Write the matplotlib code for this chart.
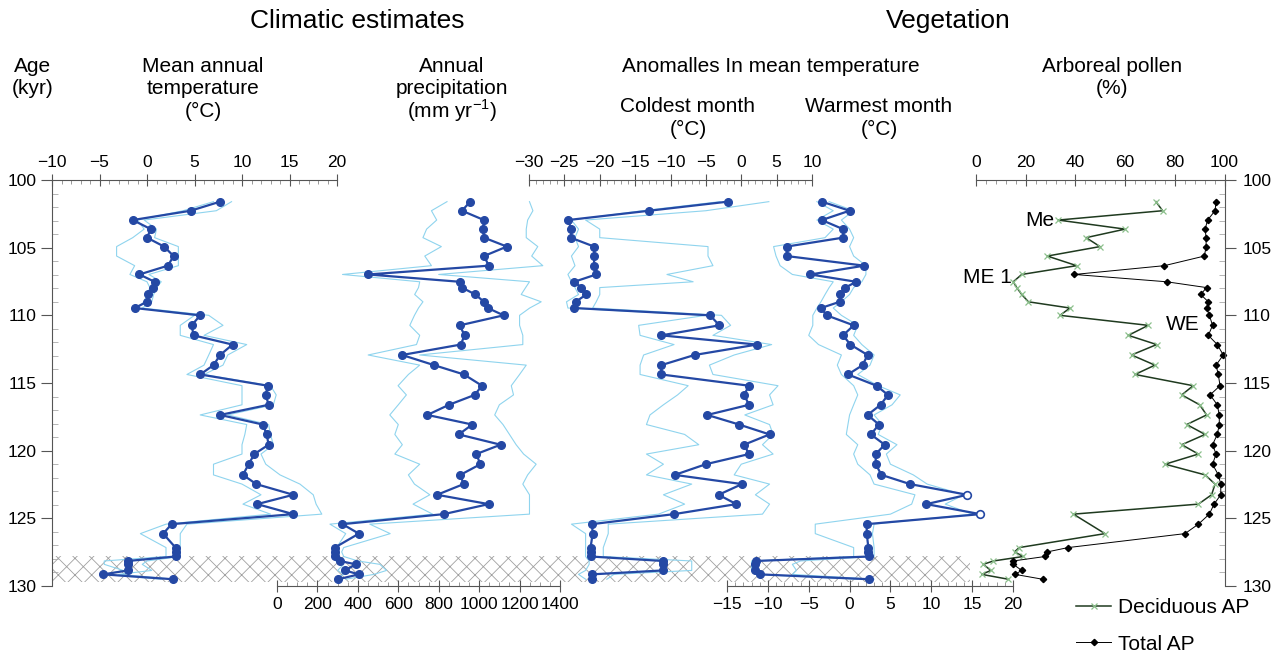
import matplotlib.pyplot as plt
import numpy as np
from matplotlib.patches import Rectangle

plt.rcParams["font.family"] = ["Liberation Sans", "DejaVu Sans"]
plt.rcParams["mathtext.fontset"] = "custom"
plt.rcParams["mathtext.rm"] = "Liberation Sans"
plt.rcParams["hatch.linewidth"] = 0.6

W, H = 1276, 655
Y_TOP, Y_BOT = 180, 586  # pixel rows of 100 and 130 kyr

BLUE = "#2448a4"
ENV = "#8fd4ee"
DEC_LINE = "#1f3a1f"
DEC_MARK = "#8cc08c"
AXIS = "#555555"
HATCH = "#a0a0a0"

# sample ages (kyr)
AGES = [101.6, 102.27, 102.96, 103.63, 104.26, 104.92, 105.62, 106.33, 106.98, 107.52,
        107.95, 108.46, 109.0, 109.46, 110.0, 110.74, 111.48, 112.16, 112.93, 113.68,
        114.37, 115.2, 115.88, 116.61, 117.36, 118.07, 118.8, 119.56, 120.25, 121.0,
        121.79, 122.47, 123.26, 123.95, 124.69, 125.43, 126.13, 127.16, 127.48, 127.82,
        128.15, 128.4, 128.85, 129.14, 129.5]

# mean annual temperature (degC) with lower / upper bounds
MAT = [7.7, 4.6, -1.5, 0.4, 0.0, 1.8, 2.8, 2.2, -0.8, 0.8,
       0.6, 0.1, 0.0, -1.3, 5.6, 4.7, 4.9, 9.0, 7.7, 7.0,
       5.6, 12.7, 12.5, 12.8, 7.7, 12.2, 12.6, 12.8, 11.3, 10.7,
       10.1, 11.5, 15.4, 11.6, 15.4, 2.6, 1.7, 3.0, 3.0, 3.0,
       -2.0, -2.0, -2.0, -4.6, 2.7]
MAT_LO = [7.0, 3.8, -1.0, -0.3, -1.5, -3.2, -3.2, -1.3, -1.8, 0.0,
          0.3, 0.0, -0.3, -1.0, 5.0, 3.5, 3.5, 7.0, 6.5, 6.0,
          4.2, 10.0, 10.0, 10.0, 5.6, 10.5, 10.3, 10.0, 10.0, 7.0,
          7.0, 10.0, 12.0, 10.1, 13.0, 2.0, -0.7, 2.0, 2.0, 2.0,
          -4.5, -4.5, -2.5, -4.5, 1.5]
MAT_HI = [8.9, 7.3, -0.3, 1.0, 0.8, 3.3, 3.3, 3.3, 0.2, 1.5,
          1.0, 0.7, 0.5, -0.5, 6.5, 8.0, 6.0, 10.5, 8.5, 8.0,
          6.0, 13.0, 13.6, 13.3, 8.5, 12.8, 13.0, 13.3, 12.0, 12.5,
          14.0, 16.1, 17.5, 17.8, 18.4, 4.2, 3.5, 3.5, 3.5, 3.5,
          0.0, -0.5, 0.5, -3.0, 3.0]

# annual precipitation (mm/yr)
PRECIP = [956, 915, 1024, 1019, 1024, 1137, 1024, 1048, 451, 904,
          915, 981, 1024, 1043, 1121, 904, 928, 909, 619, 777,
          925, 1014, 978, 851, 744, 966, 899, 1106, 986, 1006,
          907, 923, 792, 1047, 825, 324, 405, 286, 286, 286,
          311, 390, 336, 405, 303]
PRECIP_LO = [841, 764, 790, 740, 722, 813, 731, 764, 324, 706,
             700, 681, 722, 700, 680, 657, 706, 690, 451, 706,
             650, 599, 640, 600, 558, 600, 583, 620, 583, 706,
             650, 680, 756, 673, 770, 262, 340, 295, 280, 280,
             290, 330, 300, 330, 290]
PRECIP_HI = [1249, 1266, 1240, 1233, 1233, 1290, 1260, 1315, 800, 1249,
             1230, 1208, 1307, 1250, 1200, 1200, 1216, 1216, 706, 1233,
             1200, 1159, 1170, 1100, 1077, 1118, 1150, 1183, 1220, 1282,
             1240, 1216, 1249, 1249, 1249, 459, 560, 330, 320, 330,
             400, 509, 542, 480, 340]

# coldest month anomaly (degC)
COLD = [-1.9, -13.0, -24.5, -24.0, -24.1, -20.8, -20.8, -20.8, -20.5, -23.6,
        -22.6, -21.9, -23.4, -23.6, -4.4, -3.1, -11.3, 2.2, -6.6, -11.3,
        -11.3, 1.1, 0.4, 1.1, -4.8, -0.3, 4.0, 0.4, 1.1, -5.0,
        -9.4, 0.1, -3.2, -0.7, -9.5, -21.1, -21.0, -21.3, -21.3, -21.3,
        -11.1, -11.1, -11.1, -21.1, -21.1]
COLD_LO = [-3.0, -14.0, -24.0, -23.0, -23.5, -23.0, -24.0, -23.5, -24.5, -24.0,
           -23.5, -23.0, -24.7, -24.5, -5.0, -14.5, -14.3, -9.5, -13.8, -14.3,
           -14.3, -7.5, -9.0, -11.0, -12.9, -13.4, -8.0, -6.0, -13.4, -11.0,
           -13.4, -7.0, -11.0, -8.0, -11.7, -24.0, -22.0, -22.0, -22.0, -22.0,
           -21.5, -21.5, -22.0, -23.0, -22.0]
COLD_HI = [3.9, -5.0, -22.0, -20.0, -20.0, -4.7, -4.7, -4.0, -10.5, -6.8,
           -20.0, -20.0, -20.5, -21.0, -2.8, -1.5, -4.0, 4.3, -1.0, -4.5,
           -4.0, 5.2, 4.0, 4.5, 0.5, 4.0, 4.5, 3.0, 4.5, 0.0,
           -1.0, 4.0, 2.0, 4.0, 3.0, -18.8, -18.8, -19.5, -19.5, -19.5,
           -7.0, -7.0, -7.0, -18.0, -19.0]

# warmest month anomaly (degC)
WARM = [-3.4, 0.0, -3.4, -0.8, -0.8, -7.7, -7.7, 1.8, -4.8, 0.8,
        -0.5, -1.2, -1.2, -3.5, -2.8, 0.5, -0.8, 0.1, 2.2, 1.6,
        -0.2, 3.3, 4.7, 3.8, 2.2, 3.6, 2.6, 4.3, 3.2, 3.2,
        3.9, 7.4, 14.4, 9.4, 16.0, 2.1, 2.1, 2.3, 2.3, 2.4,
        -11.4, -11.6, -11.6, -11.0, 2.4]
WARM_LO = [-4.0, -2.0, -4.0, -2.0, -3.0, -9.3, -9.0, -8.5, -7.0, -2.0,
           -2.5, -3.0, -3.5, -4.0, -4.5, -4.5, -5.0, -3.8, -1.0, -1.5,
           -1.0, 0.5, 1.0, 0.5, 0.0, -0.2, -0.4, 1.0, 0.5, 1.0,
           2.5, 3.0, 8.0, 7.6, 5.0, -4.2, -4.2, 0.5, 0.5, 0.5,
           -12.0, -12.0, -12.0, -11.5, 1.0]
WARM_HI = [-2.5, 0.5, -1.0, 0.0, 0.5, 0.0, 0.5, 2.0, 2.0, 1.5,
           0.5, 0.0, -1.0, -2.0, -1.0, 1.0, 0.5, 1.5, 3.0, 2.5,
           1.0, 3.5, 6.2, 5.2, 3.0, 4.0, 3.5, 5.8, 4.5, 5.0,
           7.8, 9.5, 14.0, 11.7, 15.0, 3.0, 2.8, 3.0, 3.0, 3.0,
           -6.0, -7.0, -6.5, -7.0, 3.0]
WARM_OPEN = [32, 34]  # samples drawn as open circles

# arboreal pollen (%)
TOTAL_AP = [96.6, 96.2, 93.2, 92.2, 92.6, 92.6, 91.9, 75.8, 39.6, 76.7,
            92.8, 90.4, 93.5, 92.8, 93.9, 95.2, 93.5, 97.1, 99.5, 96.6,
            97.5, 98.2, 94.2, 97.1, 97.9, 97.9, 97.1, 95.2, 96.6, 95.2,
            97.5, 98.5, 98.5, 95.8, 93.9, 89.5, 84.1, 37.1, 28.7, 27.8,
            15.0, 15.0, 18.4, 15.7, 26.8]
DEC_AGES = [a for a in AGES if a != 125.43]
DEC_AP = [72.4, 75.1, 33.1, 60.0, 44.3, 49.9, 28.7, 40.5, 18.4, 15.0,
          16.4, 18.4, 21.1, 37.8, 33.8, 69.3, 61.3, 72.7, 62.6, 72.0,
          64.0, 87.4, 82.8, 90.0, 92.8, 84.8, 92.2, 82.8, 89.5, 76.1,
          92.2, 96.2, 94.8, 89.5, 39.2, 51.9, 17.4, 15.5, 19.0, 7.0,
          2.9, 6.0, 2.3, 13.0]


def fx(x):
    return x / W


def fy(y):
    return 1 - y / H


def px_axes(fig, x0, x1, z=2):
    ax = fig.add_axes([fx(x0), fy(Y_BOT), (x1 - x0) / W, (Y_BOT - Y_TOP) / H], zorder=z)
    ax.patch.set_alpha(0)
    ax.set_ylim(130, 100)
    for s in ax.spines.values():
        s.set_visible(False)
    ax.set_yticks([])
    return ax


def scale_axis(ax, side, lo, hi, major, minor):
    ax.set_xlim(lo, hi)
    ax.spines[side].set_visible(True)
    ax.spines[side].set_color(AXIS)
    ax.spines[side].set_linewidth(0.8)
    ax.xaxis.set_ticks_position(side)
    ax.set_xticks(np.arange(lo, hi + minor / 2, major))
    ax.set_xticks(np.arange(lo, hi + minor / 2, minor), minor=True)
    ax.tick_params(axis="x", which="major", direction="inout", length=8, width=0.8,
                   color=AXIS, labelsize=12.5, pad=3 if side == "top" else 4)
    ax.tick_params(axis="x", which="minor", direction="in", length=3, width=0.6,
                   color="#888888")


def age_axis(ax, side):
    ax.spines[side].set_visible(True)
    ax.spines[side].set_color(AXIS)
    ax.spines[side].set_linewidth(0.8)
    ax.yaxis.set_ticks_position(side)
    ax.set_yticks(np.arange(100, 131, 5))
    ax.set_yticks(np.arange(100, 131, 1), minor=True)
    ax.tick_params(axis="y", which="major", direction="out", length=8, width=0.8,
                   color=AXIS, labelsize=12.5, pad=3 if side == "left" else 5)
    ax.tick_params(axis="y", which="minor", direction="in", length=4, width=0.6,
                   color="#aaaaaa")


def climate_series(ax, vals, lo, hi, ages=AGES):
    ax.plot(lo, ages, color=ENV, lw=0.8, clip_on=False)
    ax.plot(hi, ages, color=ENV, lw=0.8, clip_on=False)
    ax.plot(vals, ages, color=BLUE, lw=1.6, marker="o", ms=5.5, clip_on=False)


fig = plt.figure(figsize=(W / 100, H / 100), dpi=100)

# hatched interval at the base of the record
bg = px_axes(fig, 52, 970, z=1)
bg.set_xlim(0, 1)
bg.set_xticks([])
bg.add_patch(Rectangle((0, 127.8), 1, 1.9, hatch="xx", fill=False,
                       edgecolor=HATCH, lw=0))

ax_mat = px_axes(fig, 52, 337, z=3)
scale_axis(ax_mat, "top", -10, 20, 5, 1)
age_axis(ax_mat, "left")
climate_series(ax_mat, MAT, MAT_LO, MAT_HI)

ax_pr = px_axes(fig, 277, 560, z=4)
scale_axis(ax_pr, "bottom", 0, 1400, 200, 50)
climate_series(ax_pr, PRECIP, PRECIP_LO, PRECIP_HI)

ax_cold = px_axes(fig, 529, 812, z=5)
scale_axis(ax_cold, "top", -30, 10, 5, 1)
climate_series(ax_cold, COLD, COLD_LO, COLD_HI)

ax_warm = px_axes(fig, 727, 1013, z=6)
scale_axis(ax_warm, "bottom", -15, 20, 5, 1)
ax_warm.plot(WARM_LO, AGES, color=ENV, lw=0.8, clip_on=False)
ax_warm.plot(WARM_HI, AGES, color=ENV, lw=0.8, clip_on=False)
filled = [i for i in range(len(WARM)) if i not in WARM_OPEN]
ax_warm.plot(WARM, AGES, color=BLUE, lw=1.6, marker="o", ms=5.5,
             markevery=filled, clip_on=False)
ax_warm.plot([WARM[i] for i in WARM_OPEN], [AGES[i] for i in WARM_OPEN], ls="none",
             marker="o", ms=5.5, mfc="white", mec=BLUE, mew=1.2, clip_on=False)

ax_ap = px_axes(fig, 976, 1224.5, z=7)
scale_axis(ax_ap, "top", 0, 100, 20, 4)
age_axis(ax_ap, "right")
dec, = ax_ap.plot(DEC_AP, DEC_AGES, color=DEC_LINE, lw=1.1, marker="x", ms=5,
                  mec=DEC_MARK, mew=0.9, clip_on=False, label="Deciduous AP")
tot, = ax_ap.plot(TOTAL_AP, AGES, color="black", lw=0.7, marker="D", ms=3.2,
                  clip_on=False, label="Total AP")

fig.legend(handles=[dec, tot], loc="upper left", bbox_to_anchor=(fx(1076), fy(598)),
           frameon=False, fontsize=15, handlelength=1.7, handletextpad=0.3,
           labelspacing=0.85, borderpad=0, borderaxespad=0, numpoints=1)

# headings
for txt, x, y, size in [
    ("Climatic estimates", 357, 21, 19),
    ("Vegetation", 948, 21, 19),
    ("Age", 33, 67, 15),
    ("(kyr)", 33, 89, 15),
    ("Mean annual", 203, 67, 15),
    ("temperature", 203, 89, 15),
    ("(°C)", 203, 111, 15),
    ("Annual", 452, 67, 15),
    ("precipitation", 452, 89, 15),
    ("(mm yr$^{-1}$)", 452, 111, 15),
    ("Anomalles In mean temperature", 771, 66, 15),
    ("Coldest month", 688, 106, 15),
    ("(°C)", 688, 129, 15),
    ("Warmest month", 879, 106, 15),
    ("(°C)", 879, 129, 15),
    ("Arboreal pollen", 1112, 67, 15),
    ("(%)", 1112, 89, 15),
]:
    fig.text(fx(x), fy(y), txt, ha="center", va="center", fontsize=size)

# event labels on the pollen curve
fig.text(fx(1040), fy(221), "Me", ha="center", va="center", fontsize=15)
fig.text(fx(1012), fy(277), "ME 1", ha="right", va="center", fontsize=15)
fig.text(fx(1183), fy(324), "WE", ha="center", va="center", fontsize=15)

fig.savefig("out.png", dpi=100, facecolor="white")
plt.close(fig)
